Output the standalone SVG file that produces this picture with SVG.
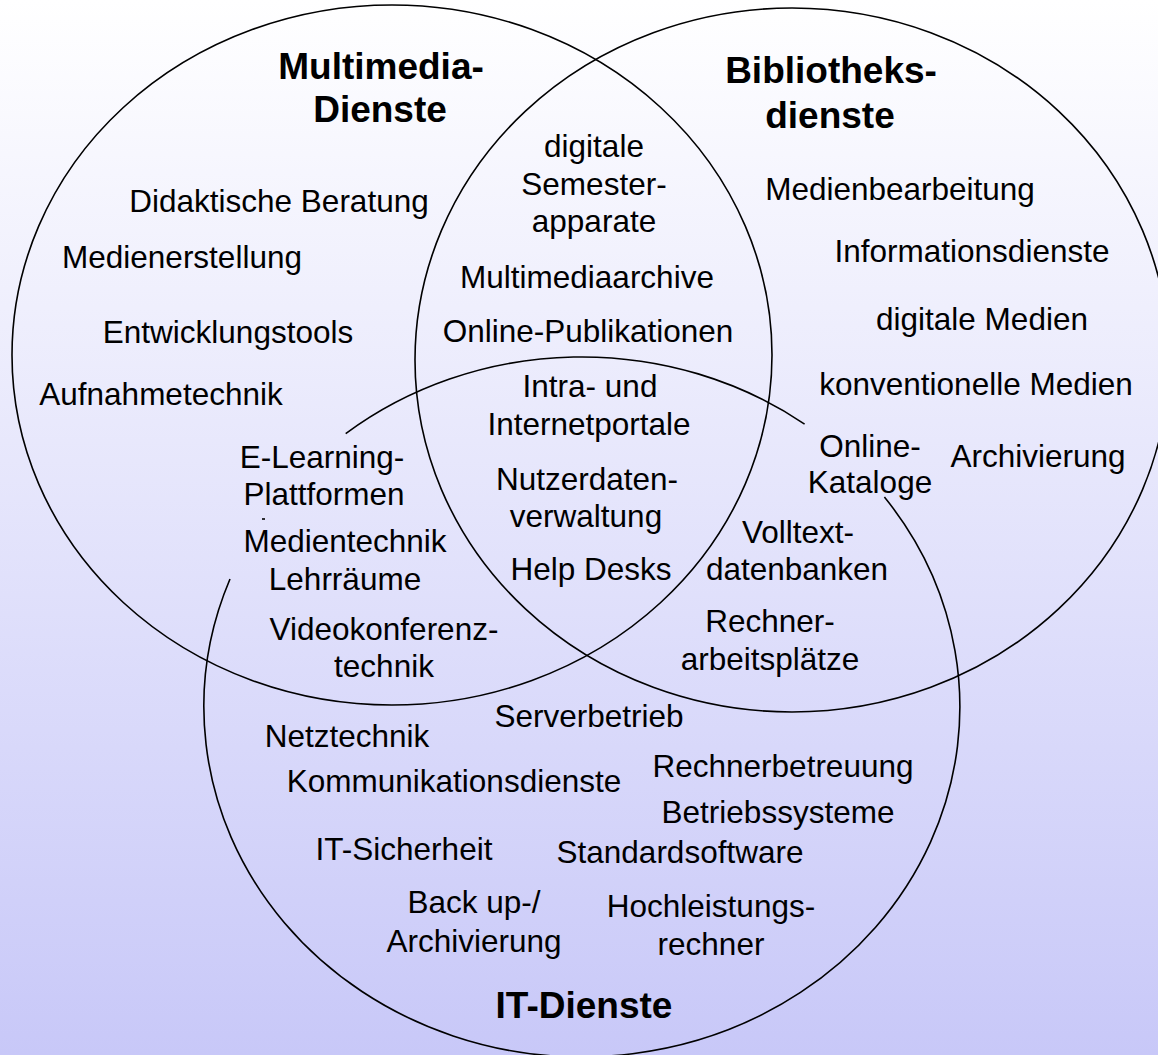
<svg xmlns="http://www.w3.org/2000/svg" width="1158" height="1055" viewBox="0 0 1158 1055">
<style>
.c{fill:none;stroke:#000;stroke-width:1.6}
.t{font-family:"Liberation Sans",Arial,sans-serif;font-size:31.5px;text-anchor:middle;fill:#000}
.b{font-weight:bold;font-size:37px}
</style>
<defs>
<linearGradient id="bg" x1="0" y1="0" x2="0" y2="1">
<stop offset="0" stop-color="#ffffff"/>
<stop offset="1" stop-color="#c8c8f8"/>
</linearGradient>
</defs>
<rect x="0" y="0" width="1158" height="1055" fill="url(#bg)"/>
<g id="circles">
<ellipse id="multimedia-circle" class="c" cx="392" cy="355" rx="380" ry="350"/>
<ellipse id="bibliothek-circle" class="c" cx="792" cy="360" rx="377" ry="352"/>
<path id="it-circle" class="c" d="M345.7,433.7 A378,350 0 0 1 804.6,424.1 M884.4,497 A378,350 0 1 1 230,579"/>
<path class="c" d="M262,519 h3" stroke-width="1"/>
</g>
<g id="multimedia">
<text class="t b" x="381" y="79">Multimedia-</text>
<text class="t b" x="380" y="122">Dienste</text>
<text class="t" x="279" y="212">Didaktische Beratung</text>
<text class="t" x="182" y="268">Medienerstellung</text>
<text class="t" x="228" y="343">Entwicklungstools</text>
<text class="t" x="161" y="405">Aufnahmetechnik</text>
</g>
<g id="bibliothek">
<text class="t b" x="831" y="83">Bibliotheks-</text>
<text class="t b" x="830" y="128">dienste</text>
<text class="t" x="900" y="200">Medienbearbeitung</text>
<text class="t" x="972" y="262">Informationsdienste</text>
<text class="t" x="982" y="330">digitale Medien</text>
<text class="t" x="976" y="395">konventionelle Medien</text>
<text class="t" x="1038" y="467">Archivierung</text>
</g>
<g id="multimedia-bibliothek">
<text class="t" x="594" y="157">digitale</text>
<text class="t" x="594" y="195">Semester-</text>
<text class="t" x="594" y="232">apparate</text>
<text class="t" x="587" y="288">Multimediaarchive</text>
<text class="t" x="588" y="342">Online-Publikationen</text>
</g>
<g id="center">
<text class="t" x="590" y="397">Intra- und</text>
<text class="t" x="589" y="435">Internetportale</text>
<text class="t" x="587" y="490">Nutzerdaten-</text>
<text class="t" x="586" y="527">verwaltung</text>
<text class="t" x="591" y="580">Help Desks</text>
</g>
<g id="multimedia-it">
<text class="t" x="322" y="468">E-Learning-</text>
<text class="t" x="324" y="505">Plattformen</text>
<text class="t" x="345" y="552">Medientechnik</text>
<text class="t" x="345" y="590">Lehrräume</text>
<text class="t" x="384" y="640">Videokonferenz-</text>
<text class="t" x="384" y="677">technik</text>
</g>
<g id="bibliothek-it">
<text class="t" x="870" y="457">Online-</text>
<text class="t" x="870" y="493">Kataloge</text>
<text class="t" x="798" y="543">Volltext-</text>
<text class="t" x="797" y="580">datenbanken</text>
<text class="t" x="770" y="632">Rechner-</text>
<text class="t" x="770" y="670">arbeitsplätze</text>
</g>
<g id="it">
<text class="t" x="589" y="727">Serverbetrieb</text>
<text class="t" x="347" y="747">Netztechnik</text>
<text class="t" x="454" y="792">Kommunikationsdienste</text>
<text class="t" x="783" y="777">Rechnerbetreuung</text>
<text class="t" x="778" y="823">Betriebssysteme</text>
<text class="t" x="404" y="860">IT-Sicherheit</text>
<text class="t" x="680" y="863">Standardsoftware</text>
<text class="t" x="474" y="913">Back up-/</text>
<text class="t" x="474" y="952">Archivierung</text>
<text class="t" x="711" y="917">Hochleistungs-</text>
<text class="t" x="711" y="955">rechner</text>
<text class="t b" x="584" y="1018">IT-Dienste</text>
</g>
</svg>
